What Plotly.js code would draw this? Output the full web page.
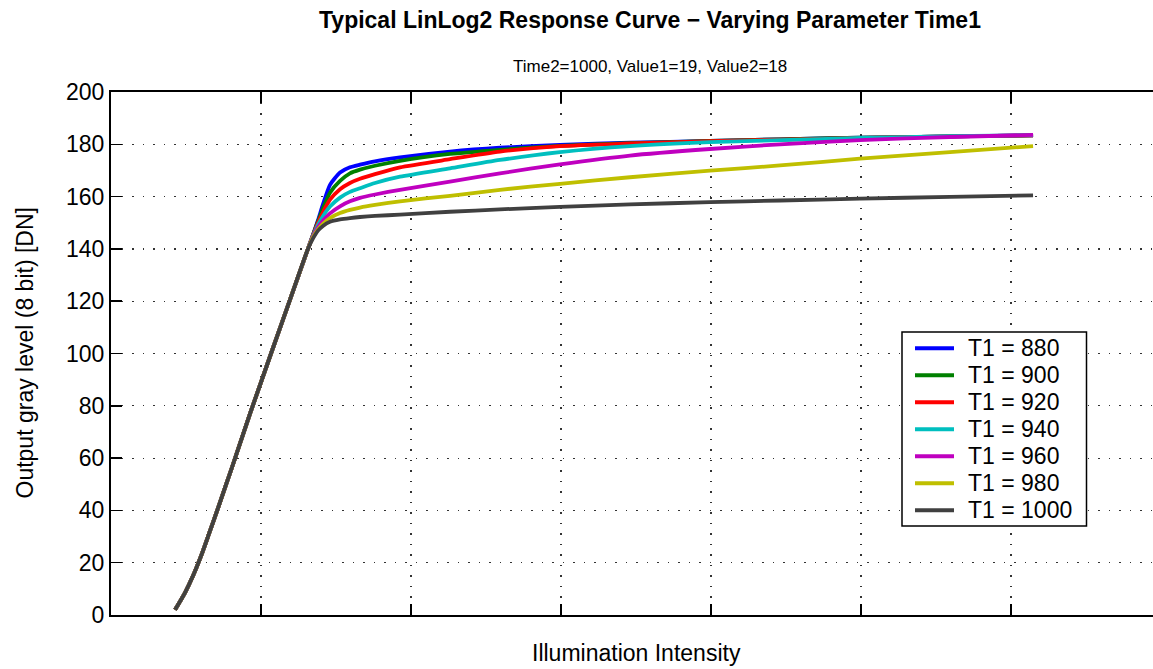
<!DOCTYPE html>
<html>
<head>
<meta charset="utf-8">
<script src="https://cdn.plot.ly/plotly-3.0.1.min.js"></script>
<style>
  html, body { margin: 0; padding: 0; overflow: hidden; background: #fff; }
  #chart { width: 1170px; height: 669px; }
</style>
</head>
<body>
<div id="chart"></div>
<script>
// Illumination intensity (arbitrary units, axis has no tick labels)
const intensity = [0.427, 0.493, 0.547, 0.600, 0.653, 0.707, 0.807, 0.927, 1.067, 1.193, 1.313,
  1.347, 1.380, 1.413, 1.460, 1.527, 1.593, 1.660, 1.760, 1.927, 2.260, 2.593,
  2.993, 3.460, 3.993, 4.460, 4.993, 5.593, 6.147];

const linearPart = [2, 8.5, 15, 22.5, 31, 39.8, 56.5, 77, 100, 120.5, 140];

const t880  = [145.5, 151, 157, 164.5, 169.2, 171.2, 172.2, 173.5, 175, 177.2, 178.7, 179.8, 180.6, 181.3, 181.9, 182.5, 183, 183.4];
const t900  = [145.5, 150.5, 155.5, 161.5, 166, 168.9, 170.3, 171.8, 173.7, 176.3, 177.9, 179.4, 180.4, 181.3, 181.9, 182.5, 183, 183.4];
const t920  = [145.3, 150, 154, 158.8, 162.8, 165.2, 166.8, 168.6, 171.2, 174.3, 177.2, 179.3, 180.3, 181.2, 181.8, 182.4, 183, 183.4];
const t940  = [145, 149.2, 152.5, 156.2, 159.6, 161.8, 163.2, 165.2, 167.6, 170.8, 174, 177, 179.3, 180.8, 181.6, 182.4, 183.1, 183.5];
const t960  = [144.8, 148.3, 150.8, 153.6, 156.3, 158.2, 159.5, 160.8, 162.6, 165.7, 168.9, 172.3, 175.7, 178.2, 180, 181.6, 182.8, 183.6];
const t980  = [144.5, 147.5, 149.6, 151.8, 153.7, 154.9, 155.8, 156.8, 158.2, 160.3, 162.6, 164.9, 167.4, 169.9, 171.9, 174.5, 177, 179.3];
const t1000 = [144, 147, 148.8, 150.4, 151.3, 151.8, 152.2, 152.6, 153.1, 154.2, 155.1, 156.1, 157, 157.9, 158.5, 159.2, 159.9, 160.5];

const seriesNames = ['T1 = 880', 'T1 = 900', 'T1 = 920', 'T1 = 940', 'T1 = 960', 'T1 = 980', 'T1 = 1000'];
const seriesValues = [t880, t900, t920, t940, t960, t980, t1000];
const seriesColors = ['#0000ff', '#008000', '#ff0000', '#00bfbf', '#bf00bf', '#bfbf00', '#404040'];

const yTicks = [0, 20, 40, 60, 80, 100, 120, 140, 160, 180, 200];
const xTicks = [0, 1, 2, 3, 4, 5, 6, 7];

const FONT = 'Liberation Sans, Arial, Helvetica, sans-serif';

// plot-area geometry (pixels) used to place legend / titles in paper coordinates
const M = { l: 111, r: 9, t: 92, b: 54 };
const W = 1170, H = 669;
const PW = W - M.l - M.r, PH = H - M.t - M.b;
const px = x => (x - M.l) / PW;
const py = y => (H - M.b - y) / PH;

const traces = seriesNames.map((name, i) => ({
  type: 'scatter',
  mode: 'lines',
  name: name,
  showlegend: false,
  x: intensity,
  y: linearPart.concat(seriesValues[i]),
  line: { color: seriesColors[i], width: 3.8, shape: 'spline', smoothing: 0.6 }
}));

// custom legend (MATLAB-style)
const shapes = [{
  type: 'rect', xref: 'paper', yref: 'paper', layer: 'above',
  x0: px(902), x1: px(1086.5), y0: py(526), y1: py(332),
  fillcolor: '#ffffff', line: { color: '#000', width: 1.5 }
}];
const annotations = [];
seriesNames.forEach((name, i) => {
  const yy = 348.3 + 27 * i;
  shapes.push({
    type: 'line', xref: 'paper', yref: 'paper', layer: 'above',
    x0: px(915), x1: px(954), y0: py(yy), y1: py(yy),
    line: { color: seriesColors[i], width: 4 }
  });
  annotations.push({
    text: name, xref: 'paper', yref: 'paper', x: px(966), y: py(yy),
    xanchor: 'left', yanchor: 'middle', showarrow: false,
    font: { family: FONT, size: 23, color: '#000' }
  });
});

annotations.push(
  { text: '<b>Typical LinLog2 Response Curve \u2212 Varying Parameter Time1</b>',
    xref: 'paper', yref: 'paper', x: px(650), y: py(20), xanchor: 'center', yanchor: 'middle',
    showarrow: false, font: { family: FONT, size: 23, color: '#000' } },
  { text: 'Time2=1000, Value1=19, Value2=18',
    xref: 'paper', yref: 'paper', x: px(650), y: py(66), xanchor: 'center', yanchor: 'middle',
    showarrow: false, font: { family: FONT, size: 17, color: '#000' } },
  { text: 'Illumination Intensity',
    xref: 'paper', yref: 'paper', x: px(636), y: py(653), xanchor: 'center', yanchor: 'middle',
    showarrow: false, font: { family: FONT, size: 23, color: '#000' } },
  { text: 'Output gray level (8 bit) [DN]',
    xref: 'paper', yref: 'paper', x: px(24), y: 0.5, xanchor: 'center', yanchor: 'middle',
    textangle: -90, showarrow: false, font: { family: FONT, size: 23, color: '#000' } }
);

const layout = {
  width: W,
  height: H,
  margin: M,
  paper_bgcolor: '#ffffff',
  plot_bgcolor: '#ffffff',
  font: { family: FONT, color: '#000' },
  showlegend: false,
  xaxis: {
    range: [0, 7],
    tickvals: xTicks,
    showticklabels: false,
    ticks: 'inside', ticklen: 11, tickwidth: 1.5, tickcolor: '#000',
    showline: true, linecolor: '#000', linewidth: 2, mirror: 'ticks',
    showgrid: true, gridcolor: '#333', gridwidth: 1.2, griddash: '1.5px,9px',
    zeroline: false
  },
  yaxis: {
    range: [0, 200],
    tickvals: yTicks,
    ticks: 'inside', ticklen: 11, tickwidth: 1.5, tickcolor: '#000',
    showline: true, linecolor: '#000', linewidth: 2, mirror: false,
    showgrid: true, gridcolor: '#333', gridwidth: 1.2, griddash: '1.5px,9px',
    zeroline: false,
    tickfont: { family: FONT, size: 23, color: '#000' }
  },
  shapes: shapes,
  annotations: annotations
};

Plotly.newPlot('chart', traces, layout, { displayModeBar: false, staticPlot: true });
</script>
</body>
</html>
